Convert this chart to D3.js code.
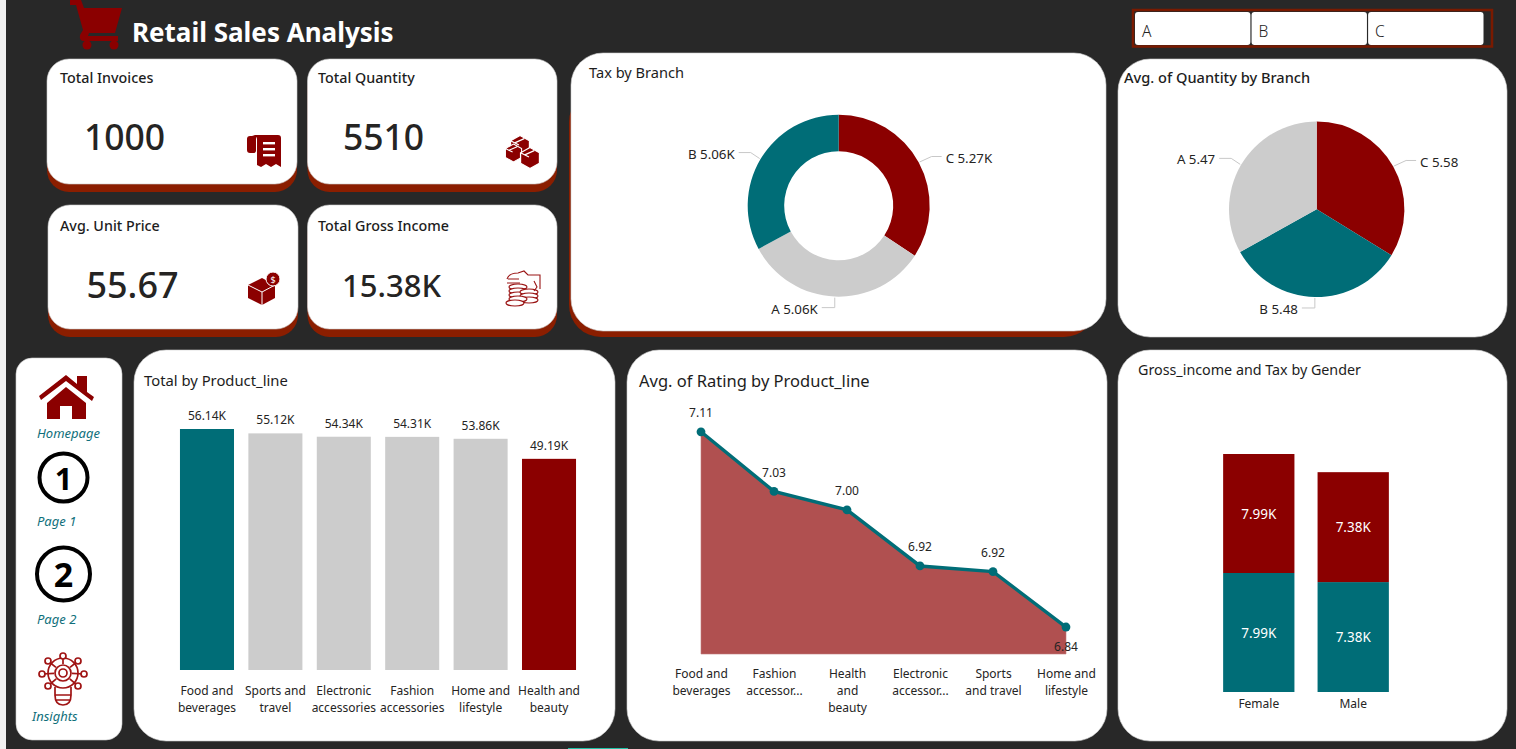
<!DOCTYPE html>
<html>
<head>
<meta charset="utf-8">
<title>Retail Sales Analysis</title>
<script src="https://cdn.jsdelivr.net/npm/d3@7"></script>
<style>
  html, body { margin: 0; padding: 0; background: #282828; overflow: hidden; }
  svg { display: block; font-family: "Noto Sans", "Open Sans", sans-serif; }
  .axis { font-family: "Noto Sans", "Open Sans", sans-serif; }
  .axis path { display: none; }
  .axis text { font-size: 12px; fill: #252423; }
  .lbl { font-size: 12px; fill: #252423; }
</style>
</head>
<body>
<svg id="dash" width="1516" height="749"></svg>
<script>
// ---- figures shown on the dashboard ----
const kpiTitles = ["Total Invoices", "Total Quantity", "Avg. Unit Price", "Total Gross Income"];
const kpiValues = ["1000", "5510", "55.67", "15.38K"];

const branchOrderTax = ["C", "A", "B"];
const branchTax = [5.27, 5.06, 5.06];

const branchOrderQty = ["C", "B", "A"];
const branchQty = [5.58, 5.48, 5.47];

const productLines = ["Food and beverages", "Sports and travel", "Electronic accessories",
                      "Fashion accessories", "Home and lifestyle", "Health and beauty"];
const productTotals = [56.14, 55.12, 54.34, 54.31, 53.86, 49.19];
const productTicks = [["Food and", "beverages"], ["Sports and", "travel"], ["Electronic", "accessories"],
                      ["Fashion", "accessories"], ["Home and", "lifestyle"], ["Health and", "beauty"]];

const ratingLines = ["Food and beverages", "Fashion accessories", "Health and beauty",
                     "Electronic accessories", "Sports and travel", "Home and lifestyle"];
const ratingValues = [7.113, 7.029, 7.003, 6.924, 6.916, 6.838];
const ratingTicks = [["Food and", "beverages"], ["Fashion", "accessor..."], ["Health", "and", "beauty"],
                     ["Electronic", "accessor..."], ["Sports", "and travel"], ["Home and", "lifestyle"]];

const genders = ["Female", "Male"];
const genderGrossIncome = [7.99, 7.38];
const genderTax = [7.99, 7.38];

const slicerItems = ["A", "B", "C"];

// ---- palette ----
const RED = "#8B0000", TEAL = "#006D77", GREY = "#CCCCCC", INK = "#252423", RUST = "#8B1E00", NAVTEXT = "#0F6F7B";

const svg = d3.select("#dash");

// Narrow light strip on the left and the small accent at the bottom of the page.
svg.append("rect").attr("x", 0).attr("y", 0).attr("width", 6).attr("height", 749).attr("fill", "#f1f1f1");
svg.append("rect").attr("x", 568).attr("y", 748).attr("width", 60).attr("height", 1).attr("fill", "#1fc2a7");

function card(x0, y0, x1, y1, r, drop) {
  if (drop) {
    svg.append("rect").attr("x", x0).attr("y", y0 + 8).attr("width", x1 - x0).attr("height", y1 - y0)
      .attr("rx", r).attr("fill", RUST);
  }
  svg.append("rect").attr("x", x0).attr("y", y0).attr("width", x1 - x0).attr("height", y1 - y0)
    .attr("rx", r).attr("fill", "#fff").attr("stroke", "#cfcfcf").attr("stroke-width", 0.6);
}
function title(x, y, s, size, weight) {
  return svg.append("text").attr("x", x).attr("y", y).attr("dominant-baseline", "central")
    .attr("font-size", size).attr("font-weight", weight).attr("fill", "#1d1d1d").text(s);
}
// Breaks a wrapped tick label into tspans on the axis' own tick text.
function wrapTicks(axisG, lines, lineHeight) {
  axisG.selectAll(".tick text").each(function (d, i) {
    const t = d3.select(this).text(null);
    lines[i].forEach((s, k) => {
      t.append("tspan").attr("x", 0).attr("dy", k ? lineHeight : 0).text(s);
    });
  });
}

// ---- header ----
svg.append("path").attr("fill", RED).attr("d",
  "M70 0 H81 L84 8 H122 L115 33 H89 L88 36 H118 V41 H84 Q79 41 80 35 L83 30 L76 5 H70 Z");
svg.append("circle").attr("cx", 87).attr("cy", 45).attr("r", 4.5).attr("fill", RED);
svg.append("circle").attr("cx", 114).attr("cy", 45).attr("r", 4.5).attr("fill", RED);
title(132, 32, "Retail Sales Analysis", 26, 700).attr("fill", "#fff");

svg.append("rect").attr("x", 1133).attr("y", 10).attr("width", 359).attr("height", 36.5)
  .attr("fill", "none").attr("stroke", "#7a1a00").attr("stroke-width", 2.5);
const slicerX = d3.scaleBand().domain(slicerItems).range([1135, 1483.5]).paddingInner(0.01);
slicerItems.forEach(s => {
  svg.append("rect").attr("x", slicerX(s)).attr("y", 12).attr("width", slicerX.bandwidth()).attr("height", 33)
    .attr("rx", 3).attr("fill", "#fff");
  svg.append("text").attr("x", slicerX(s) + 7).attr("y", 31).attr("dominant-baseline", "central")
    .attr("font-size", 15.5).attr("font-weight", 300).attr("fill", "#252423").text(s);
});

// ---- KPI cards ----
const kpiBoxes = [[47, 59, 297, 184], [307.5, 59, 557, 184], [48, 205, 298, 329], [307.5, 205, 557, 329]];
const kpiText = [[124.5, 135.5, 35.5], [383.5, 135.5, 35.5], [132.5, 284.5, 36], [391.5, 284.5, 31]];
const kpiTitleX = [60, 318, 60, 318];
kpiBoxes.forEach((b, i) => {
  card(b[0], b[1], b[2], b[3], 22, true);
  title(kpiTitleX[i], b[1] + 18 + (i > 1 ? 2 : 0), kpiTitles[i], 14.3, 500);
  svg.append("text").attr("x", kpiText[i][0]).attr("y", kpiText[i][1]).attr("text-anchor", "middle")
    .attr("dominant-baseline", "central").attr("font-size", kpiText[i][2]).attr("font-weight", 500)
    .attr("fill", INK).text(kpiValues[i]);
});

// Receipt glyph
svg.append("path").attr("fill", RED).attr("d",
  "M247 139 Q247 136 250 136 H256 V151 Q256 153 253 153 H250 Q247 153 247 150 Z M252 135 H278 Q281 135 281 138 V167 L276 164 L271 167 L266 164 L261 167 L257 165 V139 Q257 136 252 135 Z");
[143, 149, 155].forEach(y => svg.append("rect").attr("x", 263).attr("y", y - 1).attr("width", 12).attr("height", 2.4).attr("fill", "#fff"));

// Stacked boxes glyph
[[520, 146, 1.05], [513.5, 153, 0.9], [530, 158, 1.05]].forEach(([cx, cy, k]) => {
  svg.append("path").attr("fill", RED).attr("stroke", "#fff").attr("stroke-width", 1.2)
    .attr("transform", `translate(${cx},${cy}) scale(${k})`)
    .attr("d", "M0 -10 L9 -5 V5 L0 10 L-9 5 V-5 Z M-9 -5 L-1 -1 M4 -7 L-5 -3");
});

// Open box with a coin
svg.append("path").attr("fill", RED).attr("d", "M248 285 L262 278 L275 285 V298 L262 305 L248 298 Z");
svg.append("path").attr("fill", "none").attr("stroke", "#fff").attr("stroke-width", 1).attr("d", "M248 285 L262 292 L275 285 M262 292 V305");
svg.append("circle").attr("cx", 273).attr("cy", 279).attr("r", 7).attr("fill", RED).attr("stroke", "#fff").attr("stroke-width", 1);
svg.append("text").attr("x", 273).attr("y", 279.5).attr("text-anchor", "middle").attr("dominant-baseline", "central")
  .attr("font-size", 9).attr("fill", "#fff").text("$");

// Coins and hand, line style
const coinGlyph = svg.append("g").attr("fill", "#fff").attr("stroke", "#9a1515").attr("stroke-width", 1.1);
[[518, 287, 9], [518, 291, 9], [518, 295, 9], [529, 292, 9], [529, 296, 9], [529, 300, 9], [518, 299, 9], [515, 303, 9]]
  .forEach(([cx, cy, r]) => coinGlyph.append("ellipse").attr("cx", cx).attr("cy", cy).attr("rx", r).attr("ry", 3));
coinGlyph.append("path").attr("fill", "none")
  .attr("d", "M507 279 Q509 273 518 273 L524 271 L528 275 H540 V289 M507 283 H520 M508 279 L519 279 M534 281 L537 287 L534 291");

// ---- tax donut ----
svg.append("rect").attr("x", 569).attr("y", 90).attr("width", 527).attr("height", 247).attr("rx", 32).attr("fill", RUST);
card(571, 53, 1106, 331, 32, false);
title(589, 72, "Tax by Branch", 14.6, 400);

function radial(cx, cy, outer, inner, names, values, colors, fmt) {
  const g = svg.append("g").attr("transform", `translate(${cx},${cy})`);
  const arcs = d3.pie().sort(null)(values);
  const arc = d3.arc().innerRadius(inner).outerRadius(outer);
  g.selectAll("path.slice").data(arcs).join("path").attr("class", "slice")
    .attr("d", arc).attr("fill", (d, i) => colors[i]);
  arcs.forEach((a, i) => {
    const mid = (a.startAngle + a.endAngle) / 2;
    const sx = Math.sin(mid) * (outer + 1), sy = -Math.cos(mid) * (outer + 1);
    let pts, tx, ty, anchor;
    if (Math.sin(mid) > 0.5)        { pts = [[sx, sy], [sx + 12, sy - 5.5], [sx + 22, sy - 5.5]]; tx = sx + 26; ty = sy - 4; anchor = "start"; }
    else if (Math.sin(mid) < -0.5)  { pts = [[sx, sy], [sx - 9, sy - 6], [sx - 21, sy - 6]]; tx = sx - 25; ty = sy - 5; anchor = "end"; }
    else                            { pts = [[sx, sy], [sx, sy + 10], [sx - 13, sy + 10]]; tx = sx - 17; ty = sy + 11.5; anchor = "end"; }
    g.append("path").attr("d", d3.line()(pts)).attr("fill", "none").attr("stroke", "#c8c8c8").attr("stroke-width", 1);
    g.append("text").attr("x", tx).attr("y", ty).attr("text-anchor", anchor).attr("font-size", 13.3)
      .attr("fill", INK).attr("dominant-baseline", "central").text(`${names[i]} ${fmt(values[i])}`);
  });
}
radial(838.7, 205.7, 91, 54.5, branchOrderTax, branchTax, [RED, GREY, TEAL], v => v.toFixed(2) + "K");

// ---- average quantity pie ----
card(1118, 59, 1507, 337, 32, false);
title(1124, 77, "Avg. of Quantity by Branch", 14.6, 500);
radial(1316.7, 209.3, 87.7, 0, branchOrderQty, branchQty, [RED, TEAL, GREY], v => v.toFixed(2));

// ---- navigation rail ----
card(16, 358, 122, 740, 16, false);
svg.append("path").attr("fill", RED).attr("d",
  "M41 400 L39 396 L66 375 L77 384 V376 L87 376 V392 L94 397 L92 401 L66 381 Z M47 403 L66 387 L86 403 V419 H72 V406 H60 V419 H47 Z");
[["1", 63.5, 477.5, 24, 31], ["2", 63.5, 574, 26.5, 34]].forEach(([s, cx, cy, r, size]) => {
  svg.append("circle").attr("cx", cx).attr("cy", cy).attr("r", r).attr("fill", "none").attr("stroke", "#000").attr("stroke-width", 4);
  svg.append("text").attr("x", cx).attr("y", cy).attr("text-anchor", "middle").attr("dominant-baseline", "central")
    .attr("font-size", size).attr("font-weight", 700).attr("fill", "#000").text(s);
});
const bulb = svg.append("g").attr("fill", "none").attr("stroke", "#a01414").attr("stroke-width", 1.7);
bulb.append("circle").attr("cx", 63).attr("cy", 673).attr("r", 15);
bulb.append("circle").attr("cx", 63).attr("cy", 673).attr("r", 8);
bulb.append("circle").attr("cx", 63).attr("cy", 673).attr("r", 4);
[[63, 656], [48, 661], [78, 661], [42, 674], [84, 674], [48, 686], [78, 686]].forEach(([x, y]) => {
  bulb.append("line").attr("x1", 63).attr("y1", 673).attr("x2", x).attr("y2", y).attr("stroke-dasharray", "0 9 30");
  bulb.append("circle").attr("cx", x).attr("cy", y).attr("r", 3).attr("fill", "#fff");
});
bulb.append("path").attr("d", "M55 687 V695 H71 V687 M55 695 Q55 705 63 705 Q71 705 71 695 M56 700 H70");
[["Homepage", 37, 433], ["Page 1", 37, 521], ["Page 2", 37, 619], ["Insights", 32, 716]].forEach(([s, x, y]) => {
  svg.append("text").attr("x", x).attr("y", y).attr("dominant-baseline", "central")
    .attr("font-size", 13).attr("font-style", "italic").attr("font-weight", 400).attr("fill", NAVTEXT).text(s);
});

// ---- total by product line ----
card(134, 350, 615, 741, 32, false);
title(144, 380, "Total by Product_line", 14.8, 400);
const barX = d3.scaleBand().domain(productLines).range([165.6, 590.4]).padding(0.21);
const barY = d3.scaleLinear().domain([0, 56.14]).range([670, 429]);
const barFill = i => i === 0 ? TEAL : i === productLines.length - 1 ? RED : GREY;
svg.append("g").selectAll("rect").data(productTotals).join("rect")
  .attr("x", (d, i) => barX(productLines[i])).attr("width", barX.bandwidth())
  .attr("y", d => barY(d)).attr("height", d => barY(0) - barY(d))
  .attr("fill", (d, i) => barFill(i));
svg.append("g").selectAll("text").data(productTotals).join("text").attr("class", "lbl")
  .attr("x", (d, i) => barX(productLines[i]) + barX.bandwidth() / 2).attr("y", d => barY(d) - 13.5)
  .attr("text-anchor", "middle").attr("dominant-baseline", "central").text(d => d.toFixed(2) + "K");
const barAxis = svg.append("g").attr("class", "axis").attr("transform", "translate(0,670)")
  .call(d3.axisBottom(barX).tickSize(0).tickPadding(25));
barAxis.attr("font-family", null);
wrapTicks(barAxis, productTicks, 17);

// ---- average rating area ----
card(627, 350, 1107, 741, 32, false);
title(639, 380, "Avg. of Rating by Product_line", 16.5, 400);
const ptX = d3.scalePoint().domain(ratingLines).range([701, 1066]);
const ptY = d3.scaleLinear().domain([6.8, 7.113]).range([654, 431.8]);
svg.append("path").datum(ratingValues).attr("fill", "#B05050").attr("stroke", "#c07878").attr("stroke-width", 0.6)
  .attr("d", d3.area().x((d, i) => ptX(ratingLines[i])).y0(ptY(6.8)).y1(d => ptY(d)));
svg.append("path").datum(ratingValues).attr("fill", "none").attr("stroke", TEAL).attr("stroke-width", 3.4)
  .attr("d", d3.line().x((d, i) => ptX(ratingLines[i])).y(d => ptY(d)));
svg.append("g").selectAll("circle").data(ratingValues).join("circle")
  .attr("cx", (d, i) => ptX(ratingLines[i])).attr("cy", d => ptY(d)).attr("r", 4.4).attr("fill", TEAL);
svg.append("g").selectAll("text").data(ratingValues).join("text").attr("class", "lbl")
  .attr("x", (d, i) => ptX(ratingLines[i])).attr("y", d => ptY(d) - 19)
  .attr("text-anchor", "middle").attr("dominant-baseline", "central").text(d => d.toFixed(2))
  .filter((d, i) => i === ratingValues.length - 1).attr("y", d => ptY(d) + 19);
const ptAxis = svg.append("g").attr("class", "axis").attr("transform", "translate(0,654)")
  .call(d3.axisBottom(ptX).tickSize(0).tickPadding(24));
ptAxis.attr("font-family", null);
wrapTicks(ptAxis, ratingTicks, 17);

// ---- gross income and tax by gender ----
card(1118, 350, 1507, 741, 32, false);
title(1138, 369, "Gross_income and Tax by Gender", 14.3, 400);
const genderRows = genders.map((g, i) => ({ gender: g, income: genderGrossIncome[i], tax: genderTax[i] }));
const stackX = d3.scaleBand().domain(genders).range([1200, 1412]).padding(0.245);
const stackY = d3.scaleLinear().domain([0, 15.98]).range([692, 454]);
const layers = d3.stack().keys(["income", "tax"])(genderRows);
const layerColor = { income: TEAL, tax: RED };
layers.forEach(layer => {
  const g = svg.append("g");
  g.selectAll("rect").data(layer).join("rect")
    .attr("x", d => stackX(d.data.gender)).attr("width", stackX.bandwidth())
    .attr("y", d => stackY(d[1])).attr("height", d => stackY(d[0]) - stackY(d[1]))
    .attr("fill", layerColor[layer.key]);
  g.selectAll("text").data(layer).join("text")
    .attr("x", d => stackX(d.data.gender) + stackX.bandwidth() / 2).attr("y", d => stackY((d[0] + d[1]) / 2))
    .attr("text-anchor", "middle").attr("dominant-baseline", "central")
    .attr("font-size", 13.5).attr("fill", "#fff").text(d => (d[1] - d[0]).toFixed(2) + "K");
});
const stackAxis = svg.append("g").attr("class", "axis").attr("transform", "translate(0,692)")
  .call(d3.axisBottom(stackX).tickSize(0).tickPadding(7.5));
stackAxis.attr("font-family", null);
</script>
</body>
</html>
